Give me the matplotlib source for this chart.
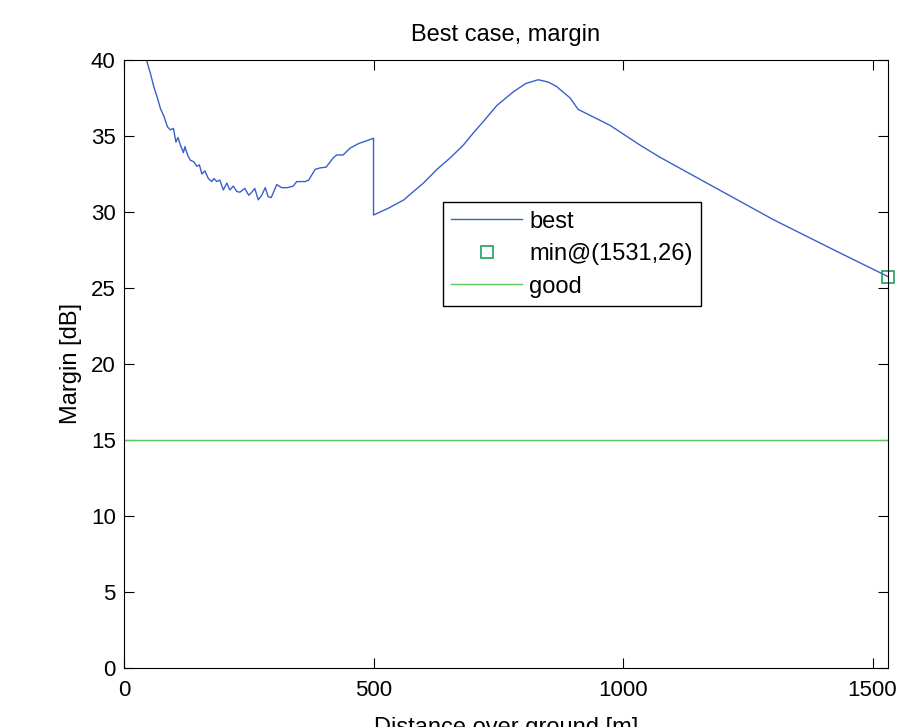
import matplotlib
matplotlib.use('Agg')
import matplotlib.pyplot as plt

# Margin along the path, best case
best_x = [30, 38, 45, 53, 60, 67, 73, 80, 87, 93, 99, 104, 108, 113, 119, 122,
          128, 133, 140, 146, 151, 156, 162, 169, 176, 180, 186, 192, 199, 206,
          212, 219, 226, 232, 242, 250, 256, 262, 269, 276, 283, 289, 295, 306,
          316, 327, 339, 346, 363, 370, 383, 393, 405, 419, 426, 439, 453, 470,
          483, 500, 500, 530, 561, 573, 600, 627, 655, 680, 700, 720, 747, 780,
          805, 830, 850, 867, 894, 910, 974, 1034, 1074, 1168, 1301, 1435, 1531]
best_y = [41.8, 40.9, 40.0, 39.1, 38.2, 37.5, 36.8, 36.3, 35.6, 35.4, 35.5, 34.6,
          34.9, 34.4, 33.9, 34.3, 33.7, 33.4, 33.3, 33.0, 33.1, 32.5, 32.7, 32.2,
          32.0, 32.2, 32.0, 32.1, 31.45, 31.9, 31.45, 31.7, 31.35, 31.3, 31.55,
          31.1, 31.3, 31.55, 30.8, 31.1, 31.6, 31.0, 30.95, 31.8, 31.6, 31.6,
          31.7, 32.0, 32.0, 32.1, 32.8, 32.9, 32.95, 33.55, 33.75, 33.75, 34.2,
          34.5, 34.65, 34.85, 29.8, 30.25, 30.8, 31.15, 31.9, 32.8, 33.6, 34.4,
          35.2, 35.95, 37.0, 37.9, 38.45, 38.7, 38.55, 38.25, 37.5, 36.75, 35.7,
          34.4, 33.6, 31.9, 29.5, 27.3, 25.75]

good_level = 15
x_ticks = [0, 500, 1000, 1500]
y_ticks = [0, 5, 10, 15, 20, 25, 30, 35, 40]

plt.rcParams['font.family'] = ['Liberation Sans', 'DejaVu Sans']

fig = plt.figure(figsize=(9.04, 7.27), dpi=100)
ax = fig.add_axes([0.1372, 0.0812, 0.8451, 0.8363])

ax.plot(best_x, best_y, color='#3a5fcd', lw=1.0, label='best')

# minimum of the curve
i_min = min(range(len(best_y)), key=lambda i: best_y[i])
x_min, y_min = best_x[i_min], best_y[i_min]
ax.plot([x_min], [y_min], 's', ms=9, mfc='none', mec='#20a060', mew=1.2,
        clip_on=False, label='min@(%d,%d)' % (round(x_min), round(y_min)))

ax.plot([0, x_min], [good_level, good_level], color='#5cc85c', lw=1.0,
        label='good')

ax.set_xlim(0, x_min)
ax.set_ylim(0, 40)
ax.set_xticks(x_ticks)
ax.set_yticks(y_ticks)
ax.tick_params(direction='in', top=True, right=True, length=7, width=0.8,
               labelsize=16)
ax.tick_params(axis='x', pad=9)
ax.tick_params(axis='y', pad=6)
for s in ax.spines.values():
    s.set_linewidth(0.8)

ax.set_title('Best case, margin', fontsize=17, pad=14)
ax.set_xlabel('Distance over ground [m]', fontsize=17, labelpad=11)
ax.set_ylabel('Margin [dB]', fontsize=17, labelpad=6)

leg = ax.legend(loc='upper left', bbox_to_anchor=(0.4175, 0.766),
                borderaxespad=0, fontsize=17, handlelength=3.0,
                handletextpad=0.3, labelspacing=0.45, borderpad=0.35,
                fancybox=False, framealpha=1, edgecolor='black')
leg.get_frame().set_linewidth(1.0)

fig.savefig('out.png', dpi=100)
